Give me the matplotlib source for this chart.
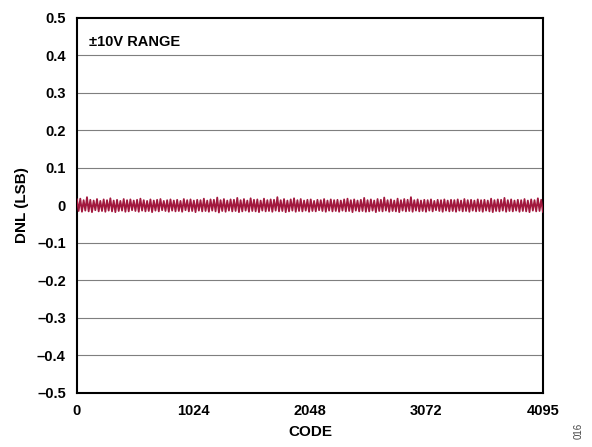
import numpy as np
import matplotlib.pyplot as plt

# DNL peaks (upper and lower tips of each spike, left to right)
dnl_hi = [0.016, 0.018, 0.014, 0.022, 0.015, 0.013, 0.017, 0.012, 0.016, 0.014,
          0.019, 0.013, 0.015, 0.012, 0.017, 0.014, 0.016, 0.013, 0.015, 0.018,
          0.014, 0.012, 0.016, 0.013, 0.015, 0.017, 0.012, 0.014, 0.016, 0.013,
          0.015, 0.012, 0.017, 0.014, 0.016, 0.013, 0.015, 0.014, 0.018, 0.013,
          0.016, 0.015, 0.021, 0.014, 0.017, 0.013, 0.016, 0.015, 0.020, 0.014,
          0.017, 0.013, 0.019, 0.015, 0.016, 0.013, 0.018, 0.014, 0.016, 0.015,
          0.022, 0.014, 0.017, 0.013, 0.016, 0.019, 0.014, 0.017, 0.013, 0.015,
          0.016, 0.012, 0.015, 0.014, 0.017, 0.013, 0.016, 0.014, 0.015, 0.013,
          0.016, 0.018, 0.014, 0.016, 0.013, 0.015, 0.020, 0.014, 0.016, 0.013,
          0.017, 0.015, 0.021, 0.014, 0.016, 0.013, 0.018, 0.014, 0.017, 0.015,
          0.022, 0.014, 0.016, 0.013, 0.015, 0.014, 0.016, 0.012, 0.015, 0.014,
          0.016, 0.013, 0.015, 0.014, 0.016, 0.013, 0.017, 0.014, 0.015, 0.013,
          0.016, 0.014, 0.015, 0.013, 0.018, 0.014, 0.016, 0.015, 0.020, 0.014,
          0.016, 0.013, 0.015, 0.014, 0.017, 0.013, 0.016, 0.014, 0.019, 0.015]
dnl_lo = [-0.015, -0.017, -0.014, -0.016, -0.018, -0.013, -0.016, -0.015, -0.017, -0.014,
          -0.016, -0.018, -0.015, -0.014, -0.017, -0.016, -0.013, -0.015, -0.017, -0.014,
          -0.016, -0.015, -0.018, -0.014, -0.016, -0.013, -0.015, -0.017, -0.014, -0.016,
          -0.015, -0.017, -0.013, -0.016, -0.015, -0.018, -0.014, -0.016, -0.015, -0.017,
          -0.014, -0.016, -0.019, -0.015, -0.017, -0.014, -0.016, -0.015, -0.018, -0.016,
          -0.014, -0.017, -0.015, -0.016, -0.018, -0.014, -0.016, -0.015, -0.017, -0.014,
          -0.016, -0.015, -0.018, -0.016, -0.014, -0.017, -0.015, -0.016, -0.014, -0.017,
          -0.015, -0.016, -0.013, -0.015, -0.017, -0.014, -0.016, -0.015, -0.017, -0.014,
          -0.016, -0.015, -0.018, -0.014, -0.016, -0.015, -0.017, -0.016, -0.014, -0.018,
          -0.015, -0.016, -0.014, -0.017, -0.015, -0.016, -0.018, -0.014, -0.016, -0.015,
          -0.017, -0.014, -0.016, -0.015, -0.017, -0.014, -0.016, -0.013, -0.015, -0.017,
          -0.014, -0.016, -0.015, -0.017, -0.014, -0.016, -0.015, -0.017, -0.014, -0.016,
          -0.015, -0.017, -0.014, -0.016, -0.018, -0.015, -0.016, -0.014, -0.017, -0.015,
          -0.016, -0.014, -0.017, -0.015, -0.016, -0.018, -0.014, -0.016, -0.015, -0.017]

x_ticks = [0, 1024, 2048, 3072, 4095]
y_ticks = [-0.5, -0.4, -0.3, -0.2, -0.1, 0, 0.1, 0.2, 0.3, 0.4, 0.5]
y_labels = ['–0.5', '–0.4', '–0.3', '–0.2', '–0.1', '0', '0.1', '0.2', '0.3', '0.4', '0.5']

# interleave upper and lower tips into one trace
dnl = []
for h, l in zip(dnl_hi, dnl_lo):
    dnl.append(h)
    dnl.append(l)
codes = np.linspace(0, 4095, len(dnl))

plt.rcParams['font.family'] = ['Liberation Sans', 'DejaVu Sans']

fig = plt.figure(figsize=(5.92, 4.47), dpi=100)
ax = fig.add_axes([0.130, 0.121, 0.787, 0.839])

for y in y_ticks[1:-1]:
    ax.axhline(y, color='#7f7f7f', lw=0.8, zorder=1)

ax.plot(codes, dnl, color='#a2183e', lw=1.3, zorder=3)

ax.set_xlim(0, 4095)
ax.set_ylim(-0.5, 0.5)
ax.set_xticks(x_ticks)
ax.set_xticklabels([str(t) for t in x_ticks], fontsize=10.5, fontweight='bold')
ax.set_yticks(y_ticks)
ax.set_yticklabels(y_labels, fontsize=10.5, fontweight='bold')
ax.tick_params(length=0, pad=8)

for s in ax.spines.values():
    s.set_linewidth(1.5)
    s.set_color('black')

ax.set_xlabel('CODE', fontsize=11, fontweight='bold', labelpad=5)
ax.set_ylabel('DNL (LSB)', fontsize=11, fontweight='bold', labelpad=6)

ax.text(0.025, 0.955, '±10V RANGE', transform=ax.transAxes, fontsize=10.5,
        fontweight='bold', va='top', ha='left')

fig.text(0.978, 0.035, '016', rotation=90, fontsize=7, color='#444444',
         ha='center', va='center')

fig.savefig('out.png', dpi=100)
